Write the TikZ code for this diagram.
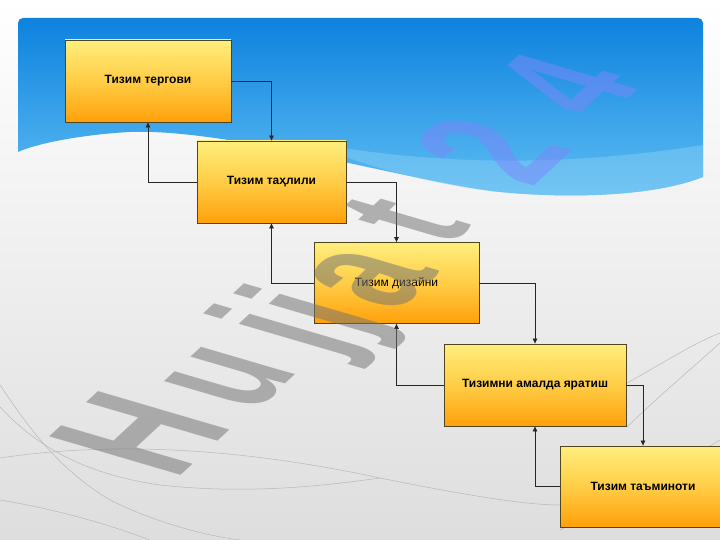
\documentclass[tikz,border=0pt]{standalone}
\usepackage{fontspec}
\setmainfont{Liberation Sans}
\usetikzlibrary{arrows.meta}
\definecolor{bluetop}{RGB}{14,130,222}
\definecolor{bluebot}{RGB}{95,190,243}
\definecolor{bandblue}{RGB}{140,208,246}
\definecolor{boxtop}{RGB}{255,238,125}
\definecolor{boxmid}{RGB}{255,205,70}
\definecolor{boxbot}{RGB}{255,160,10}
\definecolor{boxline}{RGB}{80,70,30}
\definecolor{wmgray}{RGB}{115,115,115}
\definecolor{wmblue}{RGB}{125,135,250}
\tikzset{
 stage/.style={draw=boxline, line width=0.8pt, top color=boxtop, bottom color=boxbot, middle color=boxmid,
   font=\fontsize{12}{14}\selectfont\bfseries, text=black, inner sep=2pt},
 plainlabel/.style={font=\fontsize{12}{14}\selectfont},
 conn/.style={draw=black!85, line width=0.7pt, -{Triangle[length=5pt,width=4.5pt]}},
 deco/.style={draw=black!28, line width=0.5pt},
 wmletter/.style={transform shape, inner sep=0pt, anchor=center, opacity=0.52,
   font=\bfseries\fontsize{100}{100}\selectfont},
}
\newcommand{\hdrpath}{(18,152) -- (18,23) arc[start angle=180, end angle=270, radius=5] -- (698,18)
  arc[start angle=270, end angle=360, radius=5] -- (703,177)
  .. controls (650,198) and (560,198) .. (500,192)
  .. controls (420,184) and (230,128) .. (130,132)
  .. controls (90,134) and (40,142) .. (18,152) -- cycle}
\newcommand{\wmletters}[1]{%
\foreach \ch/\px/\py/\sc [count=\i] in {H/140/433/1, u/231/378/0.93, j/294/334/0.95, j/324/314/0.95,
    a/370/278/0.95, t/406/220/0.9, 2/490/150/0.95, 4/565/85/0.9} {
  \begin{scope}[shift={(\px,\py)}, cm={0.83,0.77,-1.91,0.56,(0,0)}, scale=\sc]
    \node[wmletter, text=#1] (wm#1\i) at (0,0) {\ch};
  \end{scope}
}}
\begin{document}
\begin{tikzpicture}[x=1pt,y=-1pt]
\useasboundingbox (0,0) rectangle (720,540);
% background
\shade[top color=white, bottom color=black!13] (0,0) rectangle (720,540);
% decorative curves
\draw[deco] (0,458) .. controls (120,440) and (250,450) .. (380,478) .. controls (450,492) and (520,505) .. (560,505);
\draw[deco] (0,407) .. controls (40,450) and (90,475) .. (160,485) .. controls (250,495) and (330,485) .. (380,478);
\draw[deco] (0,500) .. controls (60,510) and (110,525) .. (150,540);
\draw[deco] (0,385) .. controls (30,430) and (60,470) .. (110,500) .. controls (150,520) and (200,535) .. (240,540);
\draw[deco] (560,530) .. controls (620,500) and (670,470) .. (720,440);
\draw[deco] (627,427) .. controls (660,395) and (690,370) .. (720,343);
\draw[deco] (627,383) .. controls (660,365) and (690,345) .. (720,333);
% blue header
\shade[top color=bluetop, bottom color=bluebot] \hdrpath;
\fill[bandblue, opacity=0.45]
  (300,140) .. controls (420,165) and (560,168) .. (703,145) -- (703,177)
  .. controls (650,198) and (560,198) .. (500,192)
  .. controls (420,184) and (350,160) .. (300,140) -- cycle;
% stages
\node[stage, minimum width=166pt, minimum height=82pt] (b1) at (148,81) {Тизим тергови};
\node[stage, minimum width=149pt, minimum height=82pt] (b2) at (271.5,182) {Тизим таҳлили};
\node[stage, plainlabel, minimum width=165pt, minimum height=81pt] (b3) at (396.5,283) {Тизим дизайни};
\node[stage, minimum width=182pt, minimum height=82pt] (b4) at (535,385) {Тизимни амалда яратиш};
\node[stage, minimum width=166pt, minimum height=81pt] (b5) at (643,486.5) {Тизим таъминоти};
% connectors
\draw[conn] (b1.east) -| (b2.north);
\draw[conn] (b2.west) -| (b1.south);
\draw[conn] (b2.east) -| (b3.north);
\draw[conn] (b3.west) -| (b2.south);
\draw[conn] (b3.east) -| (b4.north);
\draw[conn] (b4.west) -| (b3.south);
\draw[conn] (b4.east) -| (b5.north);
\draw[conn] (b5.west) -| (b4.south);
% watermark: gray outside the header, bluish inside it
\begin{scope}[even odd rule]
  \clip (-10,-10) rectangle (730,550) \hdrpath;
  \wmletters{wmgray}
\end{scope}
\begin{scope}
  \clip \hdrpath;
  \wmletters{wmblue}
\end{scope}
\end{tikzpicture}
\end{document}
